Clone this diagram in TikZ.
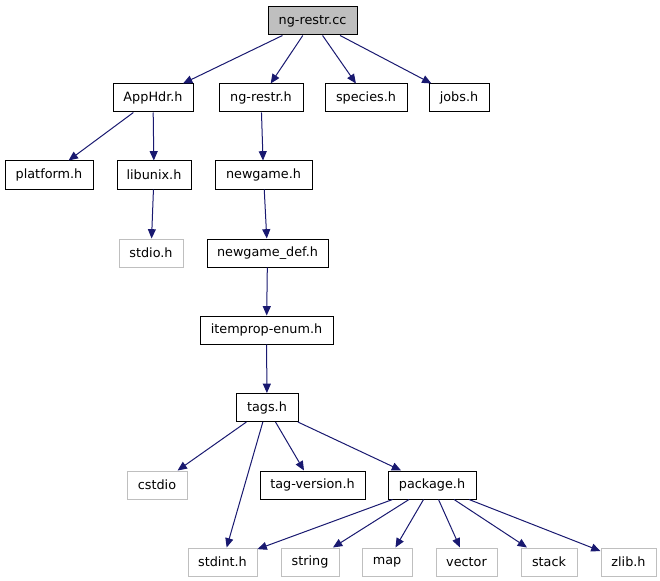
\documentclass[tikz,border=0pt]{standalone}
\usepackage{fontspec}
\setmainfont{DejaVu Sans}
\usetikzlibrary{arrows.meta}
\definecolor{edgeblue}{HTML}{191970}
\definecolor{boxgray}{HTML}{BFBFBF}
\begin{document}
\begin{tikzpicture}[x=0.75pt,y=-0.75pt,
    file/.style={draw=black,line width=0.75pt,inner sep=0pt,minimum height=21pt,
      font=\fontsize{9.6pt}{11pt}\selectfont},
    sysfile/.style={file,draw=boxgray},
    dep/.style={edgeblue,line width=0.75pt,-{Triangle[length=7pt,width=6pt]}}]
            \useasboundingbox (0,0) rectangle (660,581);
            \node[file,fill=boxgray,minimum width=66.75pt] (ngrestrcc) at (312.5,21) {ng-restr.cc};

            \node[file,minimum width=60pt] (apphdr) at (153,98) {AppHdr.h};
            \node[file,minimum width=63pt] (ngrestrh) at (261,98) {ng-restr.h};
            \node[file,minimum width=61.5pt] (species) at (366,98) {species.h};
            \node[file,minimum width=45pt] (jobs) at (459,98) {jobs.h};

            \node[file,minimum width=66pt] (platform) at (49,175) {platform.h};
            \node[file,minimum width=55.5pt] (libunix) at (154,175) {libunix.h};
            \node[file,minimum width=72.75pt] (newgame) at (263.5,175) {newgame.h};

            \node[sysfile,minimum width=48pt] (stdio) at (151,253) {stdio.h};
            \node[file,minimum width=90.75pt] (newgamedef) at (267.5,253) {newgame\_def.h};
            \node[file,minimum width=99.75pt] (itemprop) at (266.5,330) {itemprop-enum.h};
            \node[file,minimum width=46.5pt] (tags) at (267,407.5) {tags.h};

            \node[sysfile,minimum width=45pt] (cstdio) at (157,485) {cstdio};
            \node[file,minimum width=78.75pt] (tagversion) at (312.5,485) {tag-version.h};
            \node[file,minimum width=66pt] (package) at (432,485) {package.h};

            \node[sysfile,minimum width=51.75pt] (stdint) at (222.5,562) {stdint.h};
            \node[sysfile,minimum width=43.5pt] (string) at (310,562) {string};
            \node[sysfile,minimum width=37.5pt] (map) at (387,562) {map};
            \node[sysfile,minimum width=45.75pt] (vector) at (466.5,562) {vector};
            \node[sysfile,minimum width=42pt] (stack) at (549,562) {stack};
            \node[sysfile,minimum width=41.25pt] (zlib) at (628.5,562) {zlib.h};

            \draw[dep] (ngrestrcc) -- (apphdr);
            \draw[dep] (ngrestrcc) -- (ngrestrh);
            \draw[dep] (ngrestrcc) -- (species);
            \draw[dep] (ngrestrcc) -- (jobs);
            \draw[dep] (apphdr) -- (platform);
            \draw[dep] (apphdr) -- (libunix);
            \draw[dep] (libunix) -- (stdio);
            \draw[dep] (ngrestrh) -- (newgame);
            \draw[dep] (newgame) -- (newgamedef);
            \draw[dep] (newgamedef) -- (itemprop);
            \draw[dep] (itemprop) -- (tags);
            \draw[dep] (tags) -- (cstdio);
            \draw[dep] (tags) -- (stdint);
            \draw[dep] (tags) -- (tagversion);
            \draw[dep] (tags) -- (package);
            \foreach \dst in {stdint,string,map,vector,stack,zlib}
                \draw[dep] (package) -- (\dst);
        \end{tikzpicture}
\end{document}
